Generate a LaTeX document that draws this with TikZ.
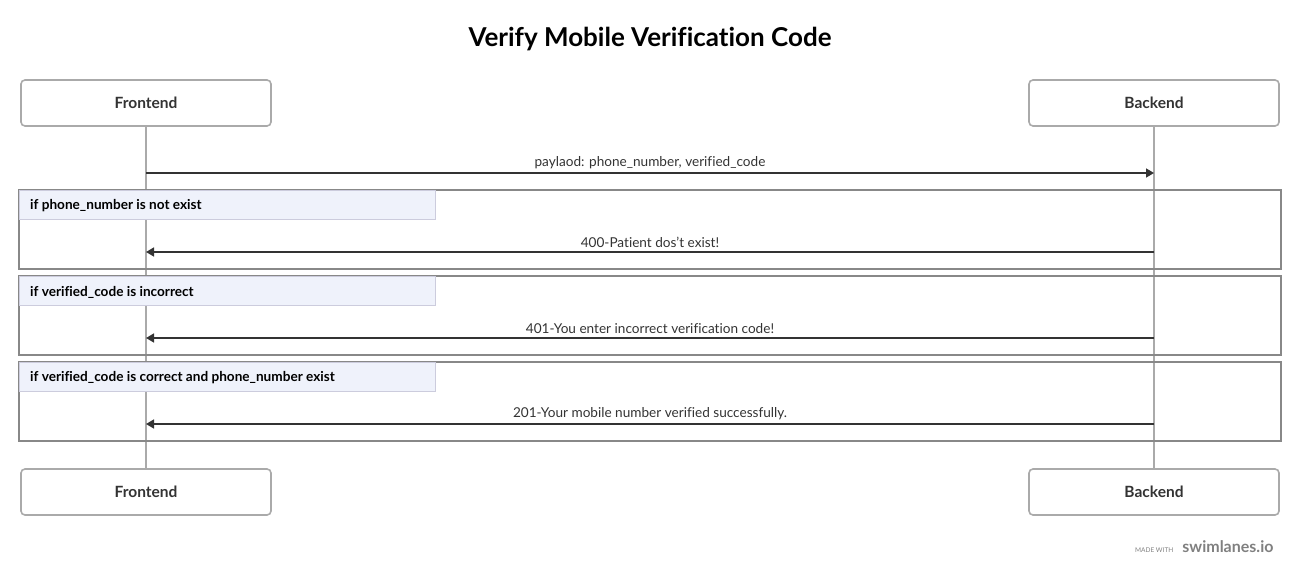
\documentclass[tikz,border=0pt]{standalone}
\usepackage{fontspec}
\setmainfont{Lato}[Ligatures=NoCommon]
\usetikzlibrary{positioning}
\usetikzlibrary{arrows.meta}

\definecolor{lifegray}{HTML}{AAAAAA}
\definecolor{framegray}{HTML}{888888}
\definecolor{labelfill}{HTML}{EFF2FB}
\definecolor{labelline}{HTML}{CCCCDD}
\definecolor{msgdark}{HTML}{333333}

\begin{document}
\begin{tikzpicture}[x=1pt,y=-1pt,
  actor/.style={draw=lifegray,line width=1.6pt,rounded corners=4pt,fill=white,minimum width=250pt,minimum height=46pt,font=\fontsize{15.5}{17}\selectfont\bfseries,text=msgdark},
  lifeline/.style={draw=lifegray,line width=1.6pt},
  msg/.style={draw=msgdark,line width=1.6pt,-{Triangle[length=8pt,width=9pt]}},
  msglabel/.style={font=\fontsize{13.6}{15}\selectfont,text=msgdark},
  frame/.style={draw=framegray,line width=1.8pt},
  framelabel/.style={draw=labelline,line width=0.8pt,fill=labelfill,minimum width=416pt,minimum height=29pt,anchor=north west,inner sep=0pt},
  frametext/.style={font=\fontsize{13.6}{15}\selectfont\bfseries,anchor=west,text=black,inner sep=0pt}]
\useasboundingbox (0,0) rectangle (1300,575);

\node[font=\fontsize{26}{30}\selectfont\bfseries] (title) at (650,39) {Verify Mobile Verification Code};

\node[actor] (feTop) at (146,103) {Frontend};
\node[actor] (beTop) at (1154,103) {Backend};
\node[actor] (feBot) at (146,492) {Frontend};
\node[actor] (beBot) at (1154,492) {Backend};

\path[lifeline] (feTop) -- (feBot);
\path[lifeline] (beTop) -- (beBot);

% request
\coordinate (fe0) at (146,173);
\coordinate (be0) at (1154,173);
\draw[msg] (fe0) -- node[msglabel,above=0.5pt] {paylaod: phone\_number, verified\_code} (be0);

% frame 1
\draw[frame] (19,190) rectangle (1281,269);
\node[framelabel] (fl1) at (19,190) {};
\node[frametext] at (30,206) {if phone\_number is not exist};
\coordinate (fe1) at (146,252);
\coordinate (be1) at (1154,252);
\draw[msg] (be1) -- node[msglabel,above=0.5pt] {400-Patient dos't exist!} (fe1);

% frame 2
\draw[frame] (19,276) rectangle (1281,355);
\node[framelabel] (fl2) at (19,276) {};
\node[frametext] at (30,292) {if verified\_code is incorrect};
\coordinate (fe2) at (146,338);
\coordinate (be2) at (1154,338);
\draw[msg] (be2) -- node[msglabel,above=0.5pt] {401-You enter incorrect verification code!} (fe2);

% frame 3
\draw[frame] (19,362) rectangle (1281,441);
\node[framelabel] (fl3) at (19,362) {};
\node[frametext] at (30,378) {if verified\_code is correct and phone\_number exist};
\coordinate (fe3) at (146,424);
\coordinate (be3) at (1154,424);
\draw[msg] (be3) -- node[msglabel,above=0.5pt] {201-Your mobile number verified successfully.} (fe3);

% footer
\node[font=\fontsize{16}{18}\selectfont\bfseries,text=gray,anchor=east] (brand) at (1277,547) {swimlanes.io};
\node[font=\fontsize{6.5}{7}\selectfont,text=gray,left=2pt of brand.base west,anchor=base east] (made) {MADE WITH};
\end{tikzpicture}
\end{document}
